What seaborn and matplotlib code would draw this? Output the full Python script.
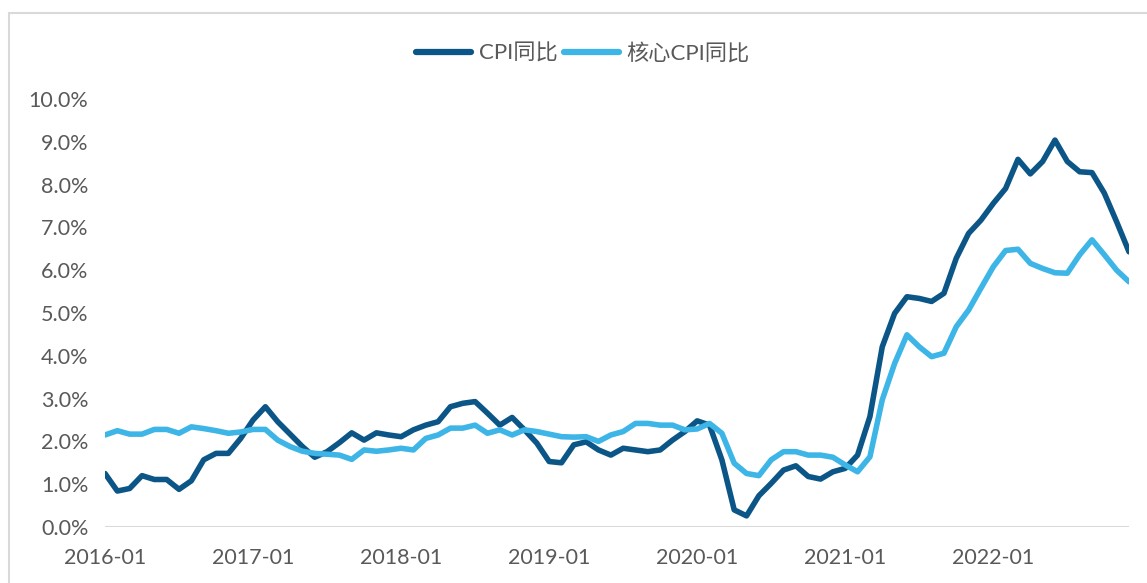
import pandas as pd
import matplotlib
matplotlib.use("Agg")
import matplotlib.pyplot as plt
from matplotlib.patches import Rectangle
from matplotlib.ticker import FuncFormatter, FixedLocator
import seaborn as sns

# 月份 2016-01 ~ 2022-12
months = pd.date_range("2016-01-01", "2022-12-01", freq="MS").strftime("%Y-%m").tolist()

# CPI同比 (%)
cpi = [
    1.25, 0.84, 0.90, 1.20, 1.11, 1.11, 0.88, 1.08, 1.57, 1.72, 1.72, 2.07,
    2.50, 2.81, 2.46, 2.17, 1.88, 1.63, 1.76, 1.97, 2.20, 2.03, 2.20, 2.15,
    2.11, 2.27, 2.38, 2.46, 2.81, 2.89, 2.93, 2.66, 2.38, 2.56, 2.27, 1.96,
    1.53, 1.50, 1.92, 1.99, 1.80, 1.68, 1.84, 1.80, 1.76, 1.80, 2.03, 2.23,
    2.48, 2.38, 1.57, 0.40, 0.26, 0.73, 1.02, 1.33, 1.43, 1.18, 1.12, 1.29,
    1.37, 1.68, 2.58, 4.21, 4.99, 5.38, 5.34, 5.27, 5.46, 6.28, 6.86, 7.17,
    7.56, 7.91, 8.59, 8.25, 8.54, 9.04, 8.54, 8.30, 8.28, 7.80, 7.13, 6.43,
]

# 核心CPI同比 (%)
core_cpi = [
    2.15, 2.25, 2.17, 2.17, 2.28, 2.28, 2.19, 2.34, 2.30, 2.25, 2.19, 2.22,
    2.28, 2.28, 2.03, 1.88, 1.77, 1.72, 1.70, 1.68, 1.58, 1.80, 1.77, 1.80,
    1.84, 1.80, 2.07, 2.15, 2.31, 2.31, 2.38, 2.19, 2.27, 2.15, 2.27, 2.23,
    2.17, 2.11, 2.10, 2.11, 2.00, 2.15, 2.23, 2.42, 2.42, 2.38, 2.38, 2.27,
    2.29, 2.42, 2.19, 1.49, 1.25, 1.20, 1.57, 1.76, 1.76, 1.68, 1.68, 1.63,
    1.45, 1.29, 1.64, 2.97, 3.82, 4.49, 4.21, 3.98, 4.06, 4.68, 5.07, 5.58,
    6.08, 6.46, 6.49, 6.16, 6.04, 5.94, 5.93, 6.36, 6.71, 6.36, 6.00, 5.73,
]

series_names = ["CPI同比", "核心CPI同比"]
colors = ["#0b5687", "#3db5e6"]
y_ticks = [0, 1, 2, 3, 4, 5, 6, 7, 8, 9, 10]
x_tick_labels = ["2016-01", "2017-01", "2018-01", "2019-01", "2020-01", "2021-01", "2022-01"]


def build_frame():
    """Собираем длинную таблицу для seaborn."""
    df = pd.DataFrame({"month": months, series_names[0]: cpi, series_names[1]: core_cpi})
    df["idx"] = range(len(df))
    return df.melt(id_vars=["month", "idx"], var_name="series", value_name="value")


def plot(df):
    sns.set_style("white")
    plt.rcParams["font.family"] = ["Lato", "Noto Sans CJK SC", "DejaVu Sans"]
    text_color = "#595959"

    fig = plt.figure(figsize=(11.47, 5.83), dpi=100)
    ax = fig.add_axes([105 / 1147, 56 / 583, 1024 / 1147, 428 / 583])

    sns.lineplot(data=df, x="idx", y="value", hue="series", hue_order=series_names,
                 palette=colors, linewidth=4.0, ax=ax, legend=False)

    ax.set_xlim(0, len(months) - 1)
    ax.set_ylim(0, 10)
    ax.set_xlabel("")
    ax.set_ylabel("")

    # подписи осей
    x_ticks = [months.index(lbl) for lbl in x_tick_labels]
    ax.xaxis.set_major_locator(FixedLocator(x_ticks))
    ax.set_xticklabels(x_tick_labels)
    ax.yaxis.set_major_locator(FixedLocator(y_ticks))
    ax.yaxis.set_major_formatter(FuncFormatter(lambda v, _: f"{v:.1f}%"))
    ax.tick_params(axis="both", length=0, labelsize=15.5, colors=text_color)
    ax.tick_params(axis="y", pad=12)
    ax.tick_params(axis="x", pad=15)

    for s in ax.spines.values():
        s.set_visible(False)
    ax.axhline(0, color="#d9d9d9", linewidth=1.5, zorder=0)

    # легенда сверху
    handles = [plt.Line2D([], [], color=c, linewidth=4.5, solid_capstyle="round") for c in colors]
    fig.legend(handles, series_names, loc="center", bbox_to_anchor=(583 / 1147, 1 - 53 / 583),
               ncol=2, frameon=False, fontsize=16, handlelength=2.45, handletextpad=0.35,
               columnspacing=0.3, labelcolor=text_color)

    # рамка вокруг картинки
    fig.patches.append(Rectangle((9 / 1147, -0.1), 1.2, 1 - 13 / 583 + 0.1,
                                 transform=fig.transFigure, fill=False,
                                 edgecolor="#d9d9d9", linewidth=1.5))

    fig.savefig("out.png", dpi=100)


def main():
    df = build_frame()
    plot(df)


if __name__ == "__main__":
    main()
